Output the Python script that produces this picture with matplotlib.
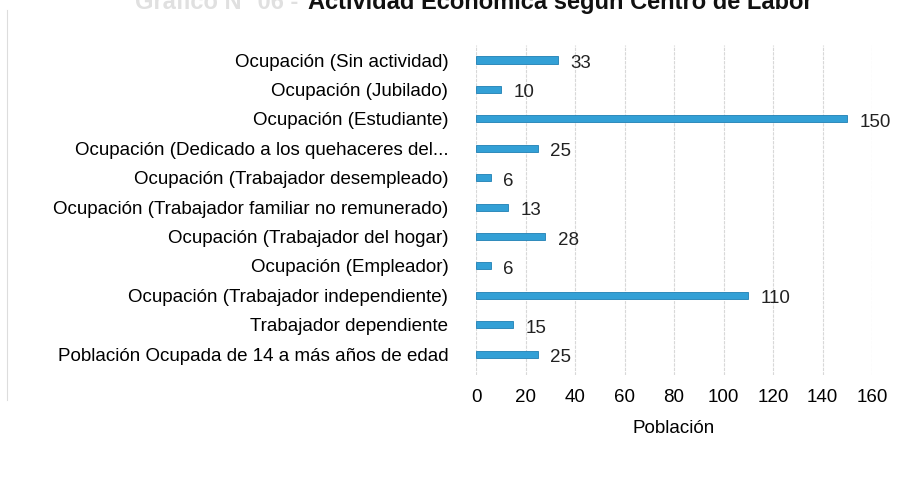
import numpy as np
import matplotlib
matplotlib.use('Agg')
import matplotlib.pyplot as plt
from matplotlib.lines import Line2D

# categorias (de arriba hacia abajo) y valores
categorias = ['Ocupación (Sin actividad)',
              'Ocupación (Jubilado)',
              'Ocupación (Estudiante)',
              'Ocupación (Dedicado a los quehaceres del...',
              'Ocupación (Trabajador desempleado)',
              'Ocupación (Trabajador familiar no remunerado)',
              'Ocupación (Trabajador del hogar)',
              'Ocupación (Empleador)',
              'Ocupación (Trabajador independiente)',
              'Trabajador dependiente',
              'Población Ocupada de 14 a más años de edad']
poblacion = [33, 10, 150, 25, 6, 13, 28, 6, 110, 15, 25]
xticks = [0, 20, 40, 60, 80, 100, 120, 140, 160]

fuente = 'Liberation Sans'
fs = 13.5

fig = plt.figure(figsize=(9.09, 4.84), dpi=100)
ax = fig.add_axes([0.5237, 0.2252, 0.4356, 0.6818])

y = np.arange(len(categorias))
ax.barh(y, poblacion, height=0.24, color='#33a0d6', edgecolor='#1f7fb4', lw=0.6, zorder=3)
for i, v in enumerate(poblacion):
    ax.text(v + 5, i + 0.12, str(v), va='center', ha='left', fontsize=fs, family=fuente, color='#222222')

ax.set_xlim(0, 160)
ax.set_ylim(10.71, -0.51)
ax.set_xticks(xticks)
ax.set_xticklabels([str(t) for t in xticks], family=fuente, fontsize=fs)
ax.set_yticks(y)
ax.set_yticklabels(categorias, family=fuente, fontsize=fs)
ax.tick_params(axis='y', length=0, pad=20)
ax.tick_params(axis='x', length=0, pad=10)
ax.grid(axis='x', color='#d8d8d8', lw=0.8, ls=(0, (3, 1)), zorder=0)
for s in ax.spines.values():
    s.set_visible(False)

ax.set_xlabel('Población', family=fuente, fontsize=fs, labelpad=10)

# titulo cortado arriba
fig.text(0.335, 1 - 9 / 484, 'Gráfico N° 06 - ', ha='right', va='baseline',
         fontsize=17, fontweight='bold', family=fuente, color='#e0e0e0')
fig.text(0.339, 1 - 9 / 484, 'Actividad Económica según Centro de Labor', ha='left', va='baseline',
         fontsize=17, fontweight='bold', family=fuente, color='#111111')

# borde izquierdo tenue del escaneo
fig.add_artist(Line2D([7 / 909, 7 / 909], [1 - 10 / 484, 1 - 400 / 484],
                      transform=fig.transFigure, color='#dddddd', lw=0.8))

fig.savefig('out.png', dpi=100)
